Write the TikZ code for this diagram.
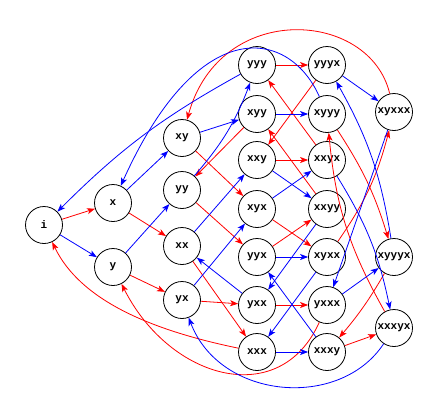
\documentclass[tikz,border=0pt]{standalone}
\usepackage{fontspec}
\newfontfamily\mono{Liberation Mono}
\usetikzlibrary{arrows.meta}
\begin{document}
\begin{tikzpicture}[x=1pt,y=-1pt,
 st/.style={circle,draw,thick,minimum size=37pt,inner sep=0pt,fill=white,font=\mono\bfseries\fontsize{11}{12}\selectfont},
 r/.style={draw=red,thick,-{Stealth[length=8pt,width=6pt,inset=2pt]}},
 b/.style={draw=blue,thick,-{Stealth[length=8pt,width=6pt,inset=2pt]}}]
\useasboundingbox (0,0) rectangle (436,418);
\node[st] (i) at (44,225) {i};
\node[st] (x) at (113,203) {x};
\node[st] (y) at (113,267) {y};
\node[st] (xy) at (182,138) {xy};
\node[st] (yy) at (182,190) {yy};
\node[st] (xx) at (182,246) {xx};
\node[st] (yx) at (182,300) {yx};
\node[st] (yyy) at (257,65) {yyy};
\node[st] (xyy) at (257,114) {xyy};
\node[st] (xxy) at (257,160) {xxy};
\node[st] (xyx) at (257,209) {xyx};
\node[st] (yyx) at (257,257) {yyx};
\node[st] (yxx) at (257,305) {yxx};
\node[st] (xxx) at (257,352) {xxx};
\node[st] (yyyx) at (327,65) {yyyx};
\node[st] (xyyy) at (327,114) {xyyy};
\node[st] (xxyx) at (327,160) {xxyx};
\node[st] (xxyy) at (327,209) {xxyy};
\node[st] (xyxx) at (327,257) {xyxx};
\node[st] (yxxx) at (327,305) {yxxx};
\node[st] (xxxy) at (327,352) {xxxy};
\node[st] (xyxxx) at (394,112) {xyxxx};
\node[st] (xyyyx) at (394,257) {xyyyx};
\node[st] (xxxyx) at (394,328) {xxxyx};
% red
\draw[r] (i)--(x); \draw[r] (x)--(xx); \draw[r] (xx)--(xxx);
\draw[r] (y)--(yx); \draw[r] (yx)--(yxx); \draw[r] (yy)--(yyx);
\draw[r] (xy)--(xyx); \draw[r] (yyy)--(yyyx); \draw[r] (xxy)--(xxyx);
\draw[r] (yyx)--(xxyy); \draw[r] (yxx)--(yxxx); \draw[r] (xxxy)--(xxxyx);
\draw[r] (xyx)--(xyxx); \draw[r] (yyyx)--(xxy); \draw[r] (xyy)--(yy);
\draw[r] (xxyx)--(yyy); \draw[r] (xxyy)--(xyy);
\draw[r] (xyxx) to[bend right=10] (xyxxx);
\draw[r] (xyyy) to[bend left=8] (xyyyx);
\draw[r] (xxxyx) to[bend left=12] (xyyy);
\draw[r] (xyyyx) to[bend left=5] (xxxy);
\draw[r] (xxx) .. controls (150,330) and (80,300) .. (i);
\draw[r] (yxxx) .. controls (280,410) and (170,380) .. (y);
\draw[r] (xyxxx) .. controls (370,10) and (220,0) .. (xy);
% blue
\draw[b] (i)--(y); \draw[b] (x)--(xy); \draw[b] (y)--(yy);
\draw[b] (xy)--(xyy); \draw[b] (yy) to[bend right=10] (yyy); \draw[b] (xx)--(xxy);
\draw[b] (yx)--(xyx); \draw[b] (xyy)--(xyyy); \draw[b] (xxy)--(xxyy);
\draw[b] (xyx)--(xxyx); \draw[b] (yyx)--(xyxx); \draw[b] (yxx)--(xx);
\draw[b] (xxx)--(xxxy); \draw[b] (yyyx)--(xyxxx); \draw[b] (xxyy)--(yxx);
\draw[b] (xyxx)--(xxx); \draw[b] (xxxy)--(yyx); \draw[b] (yxxx)--(xyyyx);
\draw[b] (xyxxx)--(yxxx);
\draw[b] (xyyyx) to[bend right=10] (yyyx);
\draw[b] (xxyx) to[bend left=10] (xxxyx);
\draw[b] (yyy) to[bend right=8] (i);
\draw[b] (xyyy) .. controls (290,30) and (200,10) .. (x);
\draw[b] (xxxyx) .. controls (340,410) and (220,400) .. (yx);
\end{tikzpicture}
\end{document}
